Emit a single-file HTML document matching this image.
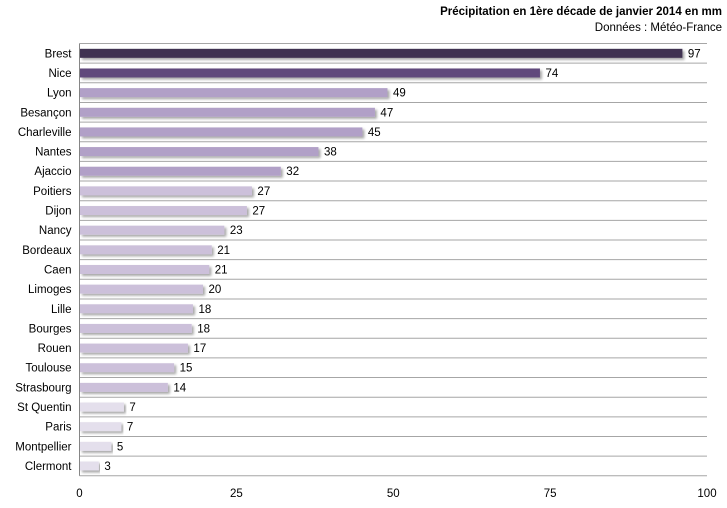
<!DOCTYPE html>
<html><head><meta charset="utf-8"><style>
body{margin:0;background:#fff;font-family:"Liberation Sans",sans-serif;}
svg text{font-family:"Liberation Sans",sans-serif;font-size:11.5px;fill:#000;}
</style></head><body>
<svg id="chart" width="727" height="503" xmlns="http://www.w3.org/2000/svg">
<defs><filter id="sh" x="-5%" y="-50%" width="110%" height="200%"><feDropShadow dx="2" dy="2" stdDeviation="1.2" flood-color="#000" flood-opacity="0.35"/></filter></defs>
<text x="722" y="15" text-anchor="end" font-weight="bold" style="font-size:11.5px">Précipitation en 1ère décade de janvier 2014  en mm</text>
<text x="722" y="31" text-anchor="end">Données : Météo-France</text>
<g id="plot"></g>
</svg>
<script>
const cities=["Brest","Nice","Lyon","Besançon","Charleville","Nantes","Ajaccio","Poitiers","Dijon","Nancy","Bordeaux","Caen","Limoges","Lille","Bourges","Rouen","Toulouse","Strasbourg","St Quentin","Paris","Montpellier","Clermont"];
const values=[96,73.3,49,47,45,38,32,27.4,26.6,23,21,20.6,19.6,18,17.8,17.2,15,14,7,6.6,5,3];
const valueLabels=["97","74","49","47","45","38","32","27","27","23","21","21","20","18","18","17","15","14","7","7","5","3"];
const tickValues=[0,25,50,75,100];
const ns="http://www.w3.org/2000/svg";
const g=document.getElementById('plot');
const x0=79.5,x1=707,gridR=707,yTop=43.5,rowH=19.65;
const xs=v=>x0+(v/100)*(x1-x0);
const yc=i=>yTop+rowH*(i+0.5);
function mk(t,a){const e=document.createElementNS(ns,t);for(const k in a)e.setAttribute(k,a[k]);g.appendChild(e);return e;}
const color=i=>i===0?"#3f3151":i===1?"#604a7b":i<=6?"#b1a0c7":i<=17?"#ccc0da":"#e4dfec";
for(let i=0;i<=cities.length;i++){
 const l=mk('line',{x1:x0,x2:gridR,y1:yTop+rowH*i,y2:yTop+rowH*i,stroke:"#a6a6a6","stroke-width":1});
 
 
}
const ax=mk('line',{x1:x0,x2:x0,y1:yTop,y2:yTop+rowH*cities.length,stroke:"#868686","stroke-width":1});


cities.forEach((c,i)=>{
 const r=mk('rect',{x:x0+0.5,y:yc(i)-4.5,width:xs(values[i])-x0,height:9,fill:color(i),filter:"url(#sh)"});
 
 
 const t=mk('text',{x:x0-8,y:yc(i)+4,"text-anchor":"end"});t.textContent=c;
 
 
 const v=mk('text',{x:xs(values[i])+6,y:yc(i)+4});v.textContent=valueLabels[i];
 
 
});
tickValues.forEach(tv=>{
 const t=mk('text',{x:xs(tv),y:497,"text-anchor":"middle"});t.textContent=tv;
 
 
});
</script>
</body></html>
